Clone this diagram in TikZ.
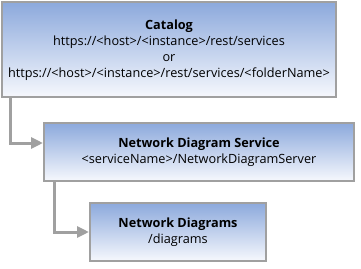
\documentclass[tikz,border=0pt]{standalone}
\usepackage{fontspec}
\setmainfont{Open Sans}
\usetikzlibrary{arrows.meta}
\definecolor{boxtop}{HTML}{8CA9DC}
\definecolor{boxbot}{HTML}{F6F8FD}
\definecolor{edge}{HTML}{A0A0A0}
\tikzset{
  box/.style={draw=edge, line width=2.8pt, top color=boxtop, bottom color=boxbot},
  lbl/.style={align=center, inner sep=0pt, font=\fontsize{12.7}{16}\selectfont},
  conn/.style={draw=edge, line width=3pt, -{Triangle[length=12pt,width=11pt]}}
}
\begin{document}
\begin{tikzpicture}[x=1pt,y=-1pt]
\useasboundingbox (0,0) rectangle (361,268);
\path[box] (2,2) rectangle (336,97);
\node[lbl] (cat) at (169,50) {\textbf{Catalog}\\https://<host>/<instance>/rest/services\\or\\https://<host>/<instance>/rest/services/<folderName>};
\path[box] (44,123) rectangle (354,181);
\node[lbl] (svc) at (199,152) {\textbf{Network Diagram Service}\\<serviceName>/NetworkDiagramServer};
\path[box] (90,203) rectangle (266,261);
\node[lbl] (nd) at (178,232) {\textbf{Network Diagrams}\\/diagrams};
\coordinate (c1s) at (10,98);
\coordinate (c1e) at (43,143);
\coordinate (c2s) at (54,182);
\coordinate (c2e) at (89,232);
\draw[conn] (c1s) |- (c1e);
\draw[conn] (c2s) |- (c2e);
\end{tikzpicture}
\end{document}
